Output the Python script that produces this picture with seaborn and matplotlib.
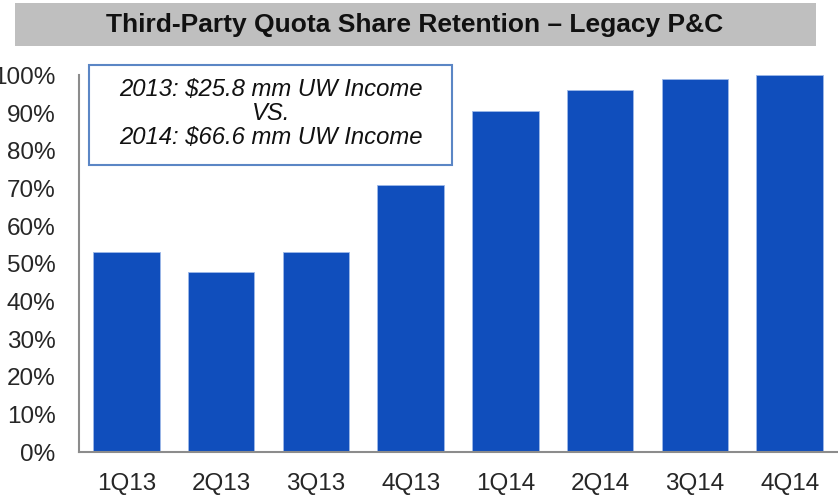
import matplotlib
matplotlib.use("Agg")
import matplotlib.pyplot as plt
from matplotlib.patches import Rectangle
from matplotlib.ticker import FuncFormatter, MultipleLocator
import seaborn as sns
import pandas as pd

quarters = ["1Q13", "2Q13", "3Q13", "4Q13", "1Q14", "2Q14", "3Q14", "4Q14"]
retention = [0.53, 0.478, 0.53, 0.709, 0.905, 0.962, 0.99, 1.0]
title_text = "Third-Party Quota Share Retention \u2013 Legacy P&C"
note_lines = ["2013: $25.8 mm UW Income", "VS.", "2014: $66.6 mm UW Income"]

sns.set_style("white")
plt.rcParams["font.family"] = ["Liberation Sans", "DejaVu Sans"]

W, H = 838, 498
fig = plt.figure(figsize=(W / 100, H / 100), dpi=100)
ax = fig.add_axes([79 / W, 1 - 452.3 / H, (837 - 79) / W, (452.3 - 75.3) / H])

df = pd.DataFrame({"q": quarters, "v": retention})
sns.barplot(data=df, x="q", y="v", ax=ax, color="#104EBC", saturation=1,
            width=0.70, edgecolor="#9DB8E8", linewidth=0.6)

ax.set_xlim(-0.5, len(quarters) - 0.5)
ax.set_ylim(0, 1.0)
ax.yaxis.set_major_locator(MultipleLocator(0.1))
ax.yaxis.set_major_formatter(FuncFormatter(lambda v, p: f"{v*100:.0f}%"))
ax.set_xlabel("")
ax.set_ylabel("")

# x ticks at category boundaries, labels centered
ax.set_xticks([i - 0.5 for i in range(len(quarters) + 1)], minor=False)
ax.set_xticklabels([""] * (len(quarters) + 1))
ax.set_xticks(range(len(quarters)), minor=True)
ax.set_xticklabels(quarters, minor=True)
ax.tick_params(axis="x", which="minor", length=0, pad=15, labelsize=17.5)
ax.tick_params(axis="x", which="major", length=7, width=1.5, color="#8C8C8C", direction="out")
ax.tick_params(axis="y", length=8, width=1.5, color="#8C8C8C", direction="out", pad=9, labelsize=17.5)

for s in ["top", "right"]:
    ax.spines[s].set_visible(False)
for s in ["left", "bottom"]:
    ax.spines[s].set_color("#8C8C8C")
    ax.spines[s].set_linewidth(1.5)

# Title bar
fig.patches.append(Rectangle((15 / W, 1 - 46 / H), (816 - 15) / W, 43 / H,
                             transform=fig.transFigure, facecolor="#BFBFBF",
                             edgecolor="none", zorder=0))
fig.text(415 / W, 1 - 25 / H, title_text, ha="center", va="center",
         fontsize=19, fontweight="bold", color="#111111")

# Annotation box
fig.patches.append(Rectangle((89 / W, 1 - 165 / H), (452 - 89) / W, 100 / H,
                             transform=fig.transFigure, facecolor="white",
                             edgecolor="#5B86C5", linewidth=1.5, zorder=5))
for i, line in enumerate(note_lines):
    fig.text(271 / W, 1 - (89 + 24.5 * i) / H, line, ha="center", va="center",
             fontsize=17.2, fontstyle="italic", color="#111111", zorder=6)

fig.savefig("out.png", dpi=100)
